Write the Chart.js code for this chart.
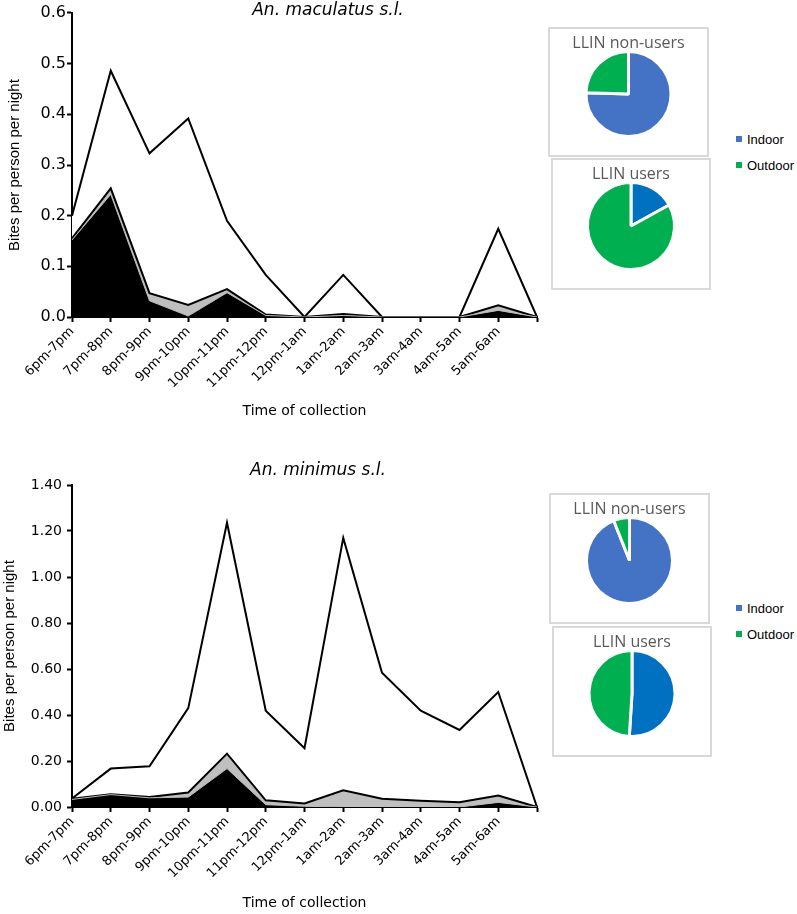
<!DOCTYPE html>
<html>
<head>
<meta charset="utf-8">
<script src="https://cdn.jsdelivr.net/npm/chart.js@4/dist/chart.umd.min.js"></script>
<style>
  html, body { margin: 0; padding: 0; background: #fff; }
  body { width: 797px; height: 914px; position: relative; overflow: hidden; }
  canvas { position: absolute; }
  .box { position: absolute; border: 2px solid #d9d9d9; box-sizing: border-box; background: #fff; }
  .box canvas { left: -2px; top: -2px; }
  .legend { position: absolute; font-family: "Liberation Sans", Arial, sans-serif; font-size: 13px; color: #000; }
  .legend div { height: 26px; line-height: 16px; white-space: nowrap; }
  .legend span.sw { display: inline-block; width: 6px; height: 6px; margin-right: 5px; vertical-align: 2px; }
</style>
</head>
<body>
<canvas id="c1" width="656" height="440" style="left:0;top:0;width:656px;height:440px"></canvas>
<canvas id="c2" width="636" height="454" style="left:0;top:460px;width:636px;height:454px"></canvas>

<div class="box" style="left:548px;top:27px;width:161px;height:130px"><canvas id="p1" width="161" height="130" style="width:161px;height:130px"></canvas></div>
<div class="box" style="left:551px;top:158px;width:160px;height:132px"><canvas id="p2" width="160" height="132" style="width:160px;height:132px"></canvas></div>
<div class="box" style="left:549px;top:493px;width:161px;height:131px"><canvas id="p3" width="161" height="131" style="width:161px;height:131px"></canvas></div>
<div class="box" style="left:552px;top:626px;width:160px;height:131px"><canvas id="p4" width="160" height="131" style="width:160px;height:131px"></canvas></div>

<div class="legend" style="left:736px;top:132px">
  <div><span class="sw" style="background:#4472C4"></span>Indoor</div>
  <div><span class="sw" style="background:#00B050"></span>Outdoor</div>
</div>
<div class="legend" style="left:736px;top:601px">
  <div><span class="sw" style="background:#4472C4"></span>Indoor</div>
  <div><span class="sw" style="background:#00B050"></span>Outdoor</div>
</div>

<script>
// ---------- data ----------
const timeLabels = ["6pm-7pm","7pm-8pm","8pm-9pm","9pm-10pm","10pm-11pm","11pm-12pm","12pm-1am","1am-2am","2am-3am","3am-4am","4am-5am","5am-6am",""];

// An. maculatus s.l.
const macWhite = [0.200, 0.486, 0.323, 0.392, 0.190, 0.083, 0.000, 0.083, 0.000, 0.000, 0.000, 0.174, 0.000];
const macGrey  = [0.155, 0.254, 0.047, 0.024, 0.055, 0.005, 0.000, 0.006, 0.000, 0.000, 0.000, 0.023, 0.000];
const macBlack = [0.152, 0.242, 0.032, 0.002, 0.048, 0.003, 0.000, 0.003, 0.000, 0.000, 0.000, 0.013, 0.000];

// An. minimus s.l.
const minWhite = [0.037, 0.167, 0.177, 0.430, 1.236, 0.419, 0.256, 1.170, 0.584, 0.419, 0.335, 0.500, 0.000];
const minGrey  = [0.036, 0.055, 0.043, 0.063, 0.232, 0.029, 0.015, 0.073, 0.036, 0.027, 0.021, 0.050, 0.000];
const minBlack = [0.033, 0.054, 0.040, 0.043, 0.167, 0.010, 0.003, 0.000, 0.000, 0.000, 0.000, 0.020, 0.000];

// Pie shares
const pieLabels = ["Indoor", "Outdoor"];
const macNonUsers = [0.755, 0.245];
const macUsers    = [0.17, 0.83];
const minNonUsers = [0.94, 0.06];
const minUsers    = [0.51, 0.49];

const SANS = '"DejaVu Sans", Verdana, sans-serif';
const ARIAL = '"Liberation Sans", Arial, sans-serif';

// ---------- line charts ----------
function lineChart(id, title, white, grey, black, yMax, yStep, dec, opts) {
  return new Chart(document.getElementById(id), {
    type: 'line',
    data: {
      labels: timeLabels,
      datasets: [
        { label: 'Series C', data: black, backgroundColor: '#000', borderColor: '#bdbdbd', borderWidth: 1, fill: 'origin', order: 0 },
        { label: 'Series B', data: grey, backgroundColor: '#bfbfbf', borderColor: '#000', borderWidth: 2, fill: 'origin', order: 1 },
        { label: 'Series A', data: white, backgroundColor: '#fff', borderColor: '#000', borderWidth: 2, fill: 'origin', order: 2 }
      ]
    },
    options: {
      responsive: false,
      animation: false,
      events: [],
      elements: { point: { radius: 0 }, line: { tension: 0, borderJoinStyle: 'miter' } },
      layout: { padding: { left: 0, right: 0, top: 0, bottom: opts.padBottom } },
      plugins: {
        legend: { display: false },
        tooltip: { enabled: false },
        title: {
          display: true, text: title, color: '#000',
          font: { family: SANS, size: 17, style: 'italic', weight: 'normal', lineHeight: 1.2 },
          padding: { top: opts.titleTop, bottom: opts.titleBottom }
        }
      },
      scales: {
        x: {
          type: 'category',
          offset: false,
          grid: { display: true, drawOnChartArea: false, drawTicks: true, tickLength: 5, tickColor: '#000', tickWidth: 2, offset: false },
          border: { display: true, color: '#000', width: 2 },
          ticks: { autoSkip: false, minRotation: 45, maxRotation: 45, color: '#000', padding: 2,
                   font: { family: SANS, size: 13 } },
          title: { display: true, text: 'Time of collection', color: '#000',
                   font: { family: SANS, size: 14 }, padding: { top: 0, bottom: 0 } },
          afterFit: (s) => { s.height = opts.xHeight; }
        },
        y: {
          min: 0, max: yMax,
          grid: { display: true, drawOnChartArea: false, drawTicks: true, tickLength: 5, tickColor: '#000', tickWidth: 2 },
          border: { display: true, color: '#000', width: 2 },
          ticks: { stepSize: yStep, color: '#000', padding: opts.tickPad,
                   font: { family: SANS, size: opts.yTickSize },
                   callback: (v) => Number(v).toFixed(dec) },
          title: { display: true, text: 'Bites per person per night', color: '#000',
                   font: { family: ARIAL, size: 15 }, padding: { top: opts.yTitleTop, bottom: 0 } },
          afterFit: (s) => { s.width = 72; }
        },
        yRight: {
          position: 'right',
          display: true,
          grid: { display: false },
          border: { display: false },
          ticks: { display: false },
          afterFit: (s) => { s.width = opts.rightSpace; }
        }
      }
    }
  });
}

lineChart('c1', 'An. maculatus s.l.', macWhite, macGrey, macBlack, 0.6, 0.1, 1,
  { rightSpace: 119, padBottom: 20, titleTop: 0, titleBottom: -7.4, xHeight: 103, tickPad: 1, yTickSize: 16, yTitleTop: 6 });
lineChart('c2', 'An. minimus s.l.', minWhite, minGrey, minBlack, 1.4, 0.2, 2,
  { rightSpace: 99, padBottom: 2.6, titleTop: 0, titleBottom: 4.6, xHeight: 104.4, tickPad: 5, yTickSize: 14, yTitleTop: 1 });

// ---------- pies ----------
function pieChart(id, title, values, indoorColor) {
  return new Chart(document.getElementById(id), {
    type: 'pie',
    data: {
      labels: pieLabels,
      datasets: [{ data: values, backgroundColor: [indoorColor, '#00B050'], borderColor: '#fff', borderWidth: 3 }]
    },
    options: {
      responsive: false,
      animation: false,
      events: [],
      layout: { padding: { left: 20, right: 20, top: 0, bottom: 19 } },
      plugins: {
        legend: { display: false },
        tooltip: { enabled: false },
        title: {
          display: true, text: title, color: '#595959',
          font: { family: '"Open Sans", sans-serif', size: 16, weight: 'normal', lineHeight: 1.2 },
          padding: { top: 6.4, bottom: -2.6 }
        }
      }
    }
  });
}

pieChart('p1', 'LLIN non-users', macNonUsers, '#4472C4');
pieChart('p2', 'LLIN users', macUsers, '#0070C0');
pieChart('p3', 'LLIN non-users', minNonUsers, '#4472C4');
pieChart('p4', 'LLIN users', minUsers, '#0070C0');
</script>
</body>
</html>
